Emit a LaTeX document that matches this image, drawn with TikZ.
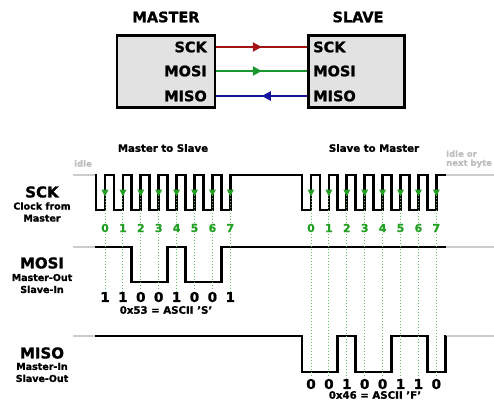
\documentclass[tikz,border=0pt]{standalone}
\usepackage{fontspec}
\setmainfont{DejaVu Sans}[BoldFeatures={FakeBold=1.2}]
\usepackage{tikz}
\usetikzlibrary{
  calc,                  % Coordinate math
  decorations.markings   % Arrows along the wires
}
\usetikzlibrary{arrows.meta}

\definecolor{sckred}{RGB}{165,20,20}
\definecolor{mosigreen}{RGB}{25,150,45}
\definecolor{misoblue}{RGB}{20,20,160}
\definecolor{bitgreen}{RGB}{35,160,35}
\definecolor{chipgray}{RGB}{226,226,226}

\tikzset{
  chip/.style={draw, fill=chipgray, line width=2.8pt, inner sep=0pt},
  chipname/.style={font=\fontsize{14.5}{16}\selectfont\bfseries, inner sep=0pt},
  pin/.style={font=\fontsize{14.5}{16}\selectfont\bfseries, inner sep=0pt},
  wire/.style={line width=2.8pt, postaction={decorate},
    decoration={markings, mark=at position 0.5 with {\arrow{Triangle[length=9pt,width=9pt]}}}},
  sig/.style={line width=2.8pt, line join=miter},
  idleline/.style={line width=2.8pt, gray!40},
  signame/.style={font=\fontsize{15}{16}\selectfont\bfseries, inner sep=0pt},
  signote/.style={font=\fontsize{9.5}{12}\selectfont\bfseries, align=center, inner sep=0pt},
  phase/.style={font=\fontsize{10.2}{12}\selectfont\bfseries, inner sep=0pt},
  idletext/.style={font=\fontsize{8.5}{9}\selectfont\bfseries, text=gray!50, inner sep=0pt},
  bitnum/.style={font=\fontsize{11}{12}\selectfont\bfseries, text=bitgreen, inner sep=1.5pt},
  bitval/.style={font=\fontsize{13.5}{14}\selectfont\bfseries, inner sep=1pt},
  ascii/.style={font=\fontsize{10.2}{12}\selectfont\bfseries, inner sep=0pt},
  tick/.style={bitgreen!70, dotted, line width=1pt}
}

\begin{document}
\begin{tikzpicture}[x=1pt, y=-1pt]
  \useasboundingbox (0,0) rectangle (494,402);
  \clip (0,0) rectangle (494,402);

  % the two chips
  \node[chip, minimum width=98pt, minimum height=72pt] (master) at (166,71.5) {};
  \node[chip, minimum width=96pt, minimum height=72pt] (slave) at (356.5,71.5) {};
  \node[chipname] (mastername) at (166,17) {MASTER};
  \node[chipname] (slavename) at (358,17) {SLAVE};

  \node[pin, anchor=east] (msck) at (207,47) {SCK};
  \node[pin, anchor=east] (mmosi) at (207,71) {MOSI};
  \node[pin, anchor=east] (mmiso) at (207,96) {MISO};
  \node[pin, anchor=west] (ssck) at (313,47) {SCK};
  \node[pin, anchor=west] (smosi) at (313,71) {MOSI};
  \node[pin, anchor=west] (smiso) at (313,96) {MISO};

  \draw[wire, sckred] (msck.east -| master.east) -- (ssck.west -| slave.west);
  \draw[wire, mosigreen] (mmosi.east -| master.east) -- (smosi.west -| slave.west);
  \draw[wire, misoblue] (smiso.west -| slave.west) -- (mmiso.east -| master.east);

  % labels on the left
  \node[signame] (sckname) at (42,192) {SCK};
  \node[signote] (scknote) at (42,212) {Clock from\\Master};
  \node[signame] (mosiname) at (42,263) {MOSI};
  \node[signote] (mosinote) at (42,283.5) {Master-Out\\Slave-In};
  \node[signame] (misoname) at (42,353) {MISO};
  \node[signote] (misonote) at (42,372.5) {Master-In\\Slave-Out};

  \node[phase] (mtos) at (163,148) {Master to Slave};
  \node[phase] (stom) at (374,148) {Slave to Master};
  \node[idletext] (idleleft) at (83,163.5) {idle};
  \node[idletext, anchor=west, align=left] (idleright) at (446,159) {idle or\\next byte};

  % idle parts
  \draw[idleline] (73,175) -- (96,175);
  \draw[idleline] (436,175) -- (494,175);
  \draw[idleline] (73,247) -- (96,247);
  \draw[idleline] (445,247) -- (494,247);
  \draw[idleline] (73,336) -- (96,336);
  \draw[idleline] (445,336) -- (494,336);

  % clock
  \draw[sig] (95,175)
    \foreach \i in {0,...,7} { -- ({105+\i*17.9-8.95},175) -- ({105+\i*17.9-8.95},210)
      -- ({105+\i*17.9},210) -- ({105+\i*17.9},175) }
    \foreach \i in {0,...,7} { -- ({311+\i*17.9-8.95},175) -- ({311+\i*17.9-8.95},210)
      -- ({311+\i*17.9},210) -- ({311+\i*17.9},175) }
    -- (446,175);

  % MOSI, 0x53
  \draw[sig] (95,247) -- (131.85,247) -- (131.85,282) -- (167.65,282) -- (167.65,247)
    -- (185.55,247) -- (185.55,282) -- (221.35,282) -- (221.35,247) -- (446,247);

  % MISO, 0x46
  \draw[sig] (95,336) -- (302.05,336) -- (302.05,372) -- (337.85,372) -- (337.85,336)
    -- (355.75,336) -- (355.75,372) -- (391.55,372) -- (391.55,336) -- (427.35,336)
    -- (427.35,372) -- (445.25,372) -- (445.25,336) -- (446,336);

  % bits sent by the master
  \foreach \b [count=\i from 0] in {1,1,0,0,1,0,0,1} {
    \pgfmathsetmacro\bx{105+\i*17.9}
    \node[bitnum] (a\i) at (\bx,228) {\i};
    \node[bitval] (av\i) at (\bx,297) {\b};
    \draw[tick] (\bx,195) -- (a\i.north);
    \draw[tick] (a\i.south) -- (av\i.north);
    \fill[bitgreen] (\bx-3.5,189.5) -- (\bx+3.5,189.5) -- (\bx,196.5) -- cycle;
  }
  \node[ascii] (mosibyte) at (166,310) {0x53 = ASCII 'S'};

  % bits sent by the slave
  \foreach \b [count=\i from 0] in {0,0,1,0,0,1,1,0} {
    \pgfmathsetmacro\bx{311+\i*17.9}
    \node[bitval] (bv\i) at (\bx,384) {\b};
    \node[bitnum] (b\i) at (\bx,228) {\i};
    \draw[tick] (\bx,195) -- (b\i.north);
    \draw[tick] (b\i.south) -- (bv\i.north);
    \fill[bitgreen] (\bx-3.5,189.5) -- (\bx+3.5,189.5) -- (\bx,196.5) -- cycle;
  }
  \node[ascii] (misobyte) at (375,395) {0x46 = ASCII 'F'};
\end{tikzpicture}
\end{document}
